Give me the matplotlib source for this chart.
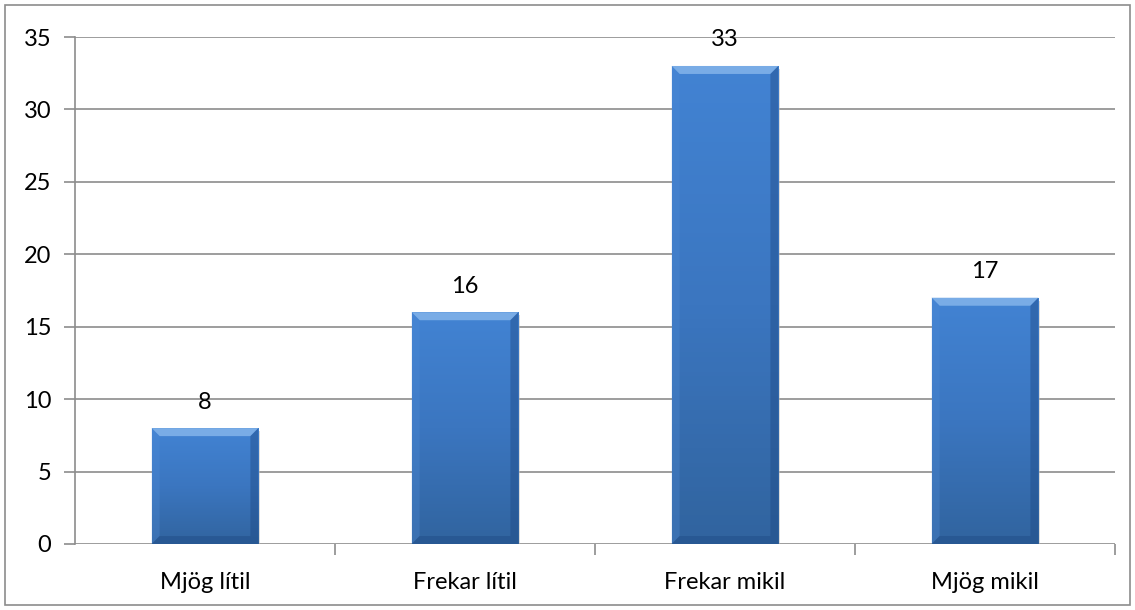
import numpy as np
import matplotlib.pyplot as plt
from matplotlib.patches import Polygon, Rectangle
from matplotlib.colors import LinearSegmentedColormap

categories = ["Mjög lítil", "Frekar lítil", "Frekar mikil", "Mjög mikil"]
values = [8, 16, 33, 17]
yticks = [0, 5, 10, 15, 20, 25, 30, 35]

plt.rcParams['font.family'] = ['Lato', 'DejaVu Sans']

fig = plt.figure(figsize=(11.35, 6.1), dpi=100)
# outer chart border
fig.add_artist(Rectangle((5 / 1135, 1 - 605 / 610), 1125 / 1135, 600 / 610,
                         transform=fig.transFigure, fill=False,
                         edgecolor='#8c8c8c', linewidth=1.2))

ax = fig.add_axes([75 / 1135, 1 - 544 / 610, 1040 / 1135, 507 / 610])
ax.set_xlim(-0.5, len(categories) - 0.5)
ax.set_ylim(0, 35)

for y in yticks:
    ax.axhline(y, color='#8c8c8c', linewidth=1.2, zorder=1)

ax.set_yticks(yticks)
ax.set_yticklabels([str(t) for t in yticks], fontsize=17)
ax.set_xticks(np.arange(len(categories)))
ax.set_xticklabels(categories, fontsize=17)
ax.tick_params(axis='x', length=0, pad=20)
ax.tick_params(axis='y', length=8, width=1.2, color='#8c8c8c', pad=9)
# category boundary ticks
ax.set_xticks(np.arange(len(categories)) + 0.5, minor=True)
ax.tick_params(axis='x', which='minor', length=8, width=1.2, color='#8c8c8c', direction='out')
for s in ['top', 'right', 'bottom']:
    ax.spines[s].set_visible(False)
ax.spines['left'].set_color('#8c8c8c')
ax.spines['left'].set_linewidth(1.2)

grad = LinearSegmentedColormap.from_list('g', ['#31649f', '#3b76c0', '#4283d3'])
width = 0.41
bx = 8 / 263   # bevel in data x
by = 8 * 35 / 507  # bevel in data y

for i, v in enumerate(values):
    x0, x1 = i - width / 2, i + width / 2
    # soft shadow
    ax.add_patch(Rectangle((x0 + 0.006, -0.2), width, v, facecolor='#b8b8b8',
                           edgecolor='none', alpha=0.5, zorder=2))
    rect = Rectangle((x0, 0), width, v, facecolor='none', edgecolor='none', zorder=3)
    ax.add_patch(rect)
    im = ax.imshow(np.linspace(0, 1, 100).reshape(-1, 1), cmap=grad, aspect='auto',
                   extent=(x0, x1, 0, v), origin='lower', zorder=3)
    im.set_clip_path(rect)
    # bevels
    ax.add_patch(Polygon([(x0, v), (x1, v), (x1 - bx, v - by), (x0 + bx, v - by)],
                         facecolor='#79ace6', edgecolor='none', zorder=4))
    ax.add_patch(Polygon([(x0, 0), (x0, v), (x0 + bx, v - by), (x0 + bx, by)],
                         facecolor='#4d8ad6', edgecolor='none', zorder=4, alpha=0.35))
    ax.add_patch(Polygon([(x1, 0), (x1, v), (x1 - bx, v - by), (x1 - bx, by)],
                         facecolor='#1f4a85', edgecolor='none', zorder=4, alpha=0.45))
    ax.add_patch(Polygon([(x0, 0), (x1, 0), (x1 - bx, by), (x0 + bx, by)],
                         facecolor='#1f4a85', edgecolor='none', zorder=4, alpha=0.45))
    ax.text(i, v + 1.8, str(v), ha='center', va='center', fontsize=17, zorder=5)

ax.set_xlim(-0.5, len(categories) - 0.5)
ax.set_ylim(0, 35)

fig.savefig('out.png', dpi=100)
